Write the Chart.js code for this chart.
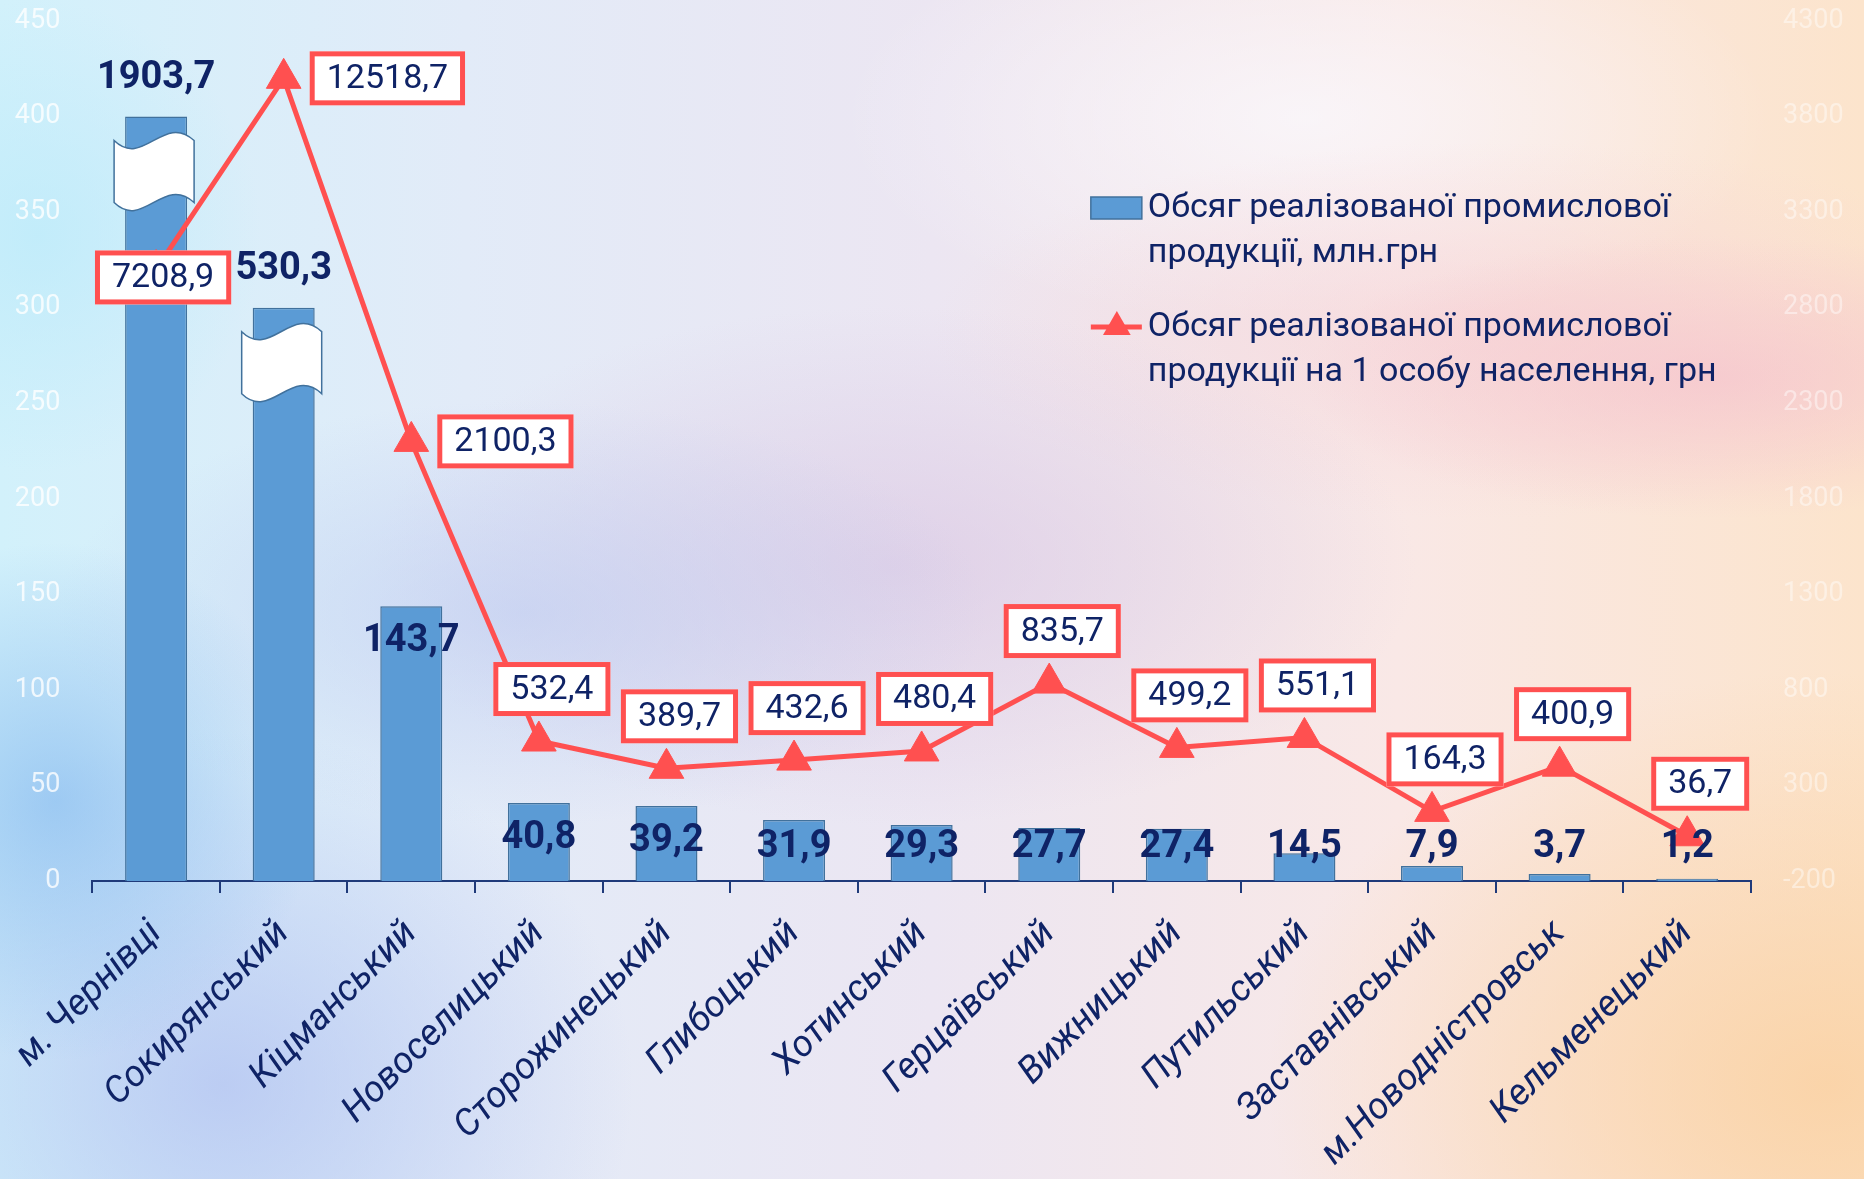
<!DOCTYPE html>
<html lang="uk">
<head>
<meta charset="utf-8">
<script src="https://cdn.jsdelivr.net/npm/chart.js@4.4.1/dist/chart.umd.min.js"></script>
<style>
  html, body { margin: 0; padding: 0; }
  body {
    width: 1864px; height: 1179px; overflow: hidden;
    background:
      radial-gradient(ellipse 14% 22% at 3% 68%, rgba(140,190,240,0.75), rgba(140,190,240,0) 100%),
      radial-gradient(ellipse 22% 30% at 12% 92%, rgba(175,190,240,0.7), rgba(175,190,240,0) 100%),
      radial-gradient(ellipse 25% 18% at 28% 52%, rgba(185,200,240,0.55), rgba(185,200,240,0) 100%),
      radial-gradient(ellipse 28% 22% at 48% 48%, rgba(215,195,225,0.6), rgba(215,195,225,0) 100%),
      radial-gradient(ellipse 22% 12% at 92% 32%, rgba(245,195,205,0.7), rgba(245,195,205,0) 100%),
      radial-gradient(ellipse 30% 16% at 80% 28%, rgba(245,205,212,0.5), rgba(245,205,212,0) 100%),
      radial-gradient(ellipse 30% 35% at 98% 92%, rgba(250,208,160,0.8), rgba(250,208,160,0) 100%),
      radial-gradient(ellipse 25% 18% at 70% 10%, rgba(250,250,255,0.7), rgba(250,250,255,0) 100%),
      radial-gradient(ellipse 12% 20% at 2% 20%, rgba(190,235,250,0.8), rgba(190,235,250,0) 100%),
      linear-gradient(90deg, #d2f1fb 0%, #e2ebf8 25%, #ece6f2 50%, #f9e8e6 75%, #fce4cc 100%);
  }
  #wrap { position: absolute; left: 0; top: 0; width: 1864px; height: 1179px; }
</style>
</head>
<body>
<div id="wrap"><canvas id="c" width="1864" height="1179"></canvas></div>
<script>
// ---------- DATA ----------
const categories = ['м. Чернівці', 'Сокирянський', 'Кіцманський', 'Новоселицький', 'Сторожинецький',
  'Глибоцький', 'Хотинський', 'Герцаївський', 'Вижницький', 'Путильський', 'Заставнівський',
  'м.Новодністровськ', 'Кельменецький'];

// Обсяг реалізованої промислової продукції, млн.грн (values written in the labels)
const volumeValues = [1903.7, 530.3, 143.7, 40.8, 39.2, 31.9, 29.3, 27.7, 27.4, 14.5, 7.9, 3.7, 1.2];
// heights at which the bars are drawn (first two bars are shown broken)
const volumeBarHeights = [400, 300, 143.7, 40.8, 39.2, 31.9, 29.3, 27.7, 27.4, 14.5, 7.9, 3.7, 1.2];

// Обсяг реалізованої промислової продукції на 1 особу населення, грн (values written in the labels)
const perCapitaValues = [7208.9, 12518.7, 2100.3, 532.4, 389.7, 432.6, 480.4, 835.7, 499.2, 551.1, 164.3, 400.9, 36.7];
// heights at which the points are drawn (first two points are off the axis scale)
const perCapitaPointHeights = [3000, 4000, 2100.3, 532.4, 389.7, 432.6, 480.4, 835.7, 499.2, 551.1, 164.3, 400.9, 36.7];

const leftTickLabels = [0, 50, 100, 150, 200, 250, 300, 350, 400, 450];
const rightTickLabels = [-200, 300, 800, 1300, 1800, 2300, 2800, 3300, 3800, 4300];

const legendLabels = [
  ['Обсяг реалізованої промислової', 'продукції, млн.грн'],
  ['Обсяг реалізованої промислової', 'продукції на 1 особу населення, грн']
];

// ---------- STYLE ----------
const FONT = 'Roboto, "Open Sans", "Noto Sans", sans-serif';
const NAVY = '#0f2366';
const BAR_FILL = '#5B9BD5';
const BAR_EDGE = '#41719C';
const RED = '#FF5050';
// label placement for the line labels: 'cover' | 'right' | 'above'
const lineLabelPlacement = ['cover', 'right', 'right', 'above', 'above', 'above', 'above', 'above', 'above', 'above', 'above', 'above', 'above'];

const fmt = v => v.toFixed(1).replace('.', ',');

function drawBreak(ctx, cx, top, w, h) {
  const L = cx - w / 2, R = cx + w / 2, c = 28;
  ctx.save();
  ctx.beginPath();
  ctx.moveTo(L, top);
  ctx.bezierCurveTo(L + w * 0.36, top + c, L + w * 0.62, top - c, R, top);
  ctx.lineTo(R, top + h);
  ctx.bezierCurveTo(L + w * 0.62, top + h - c, L + w * 0.36, top + h + c, L, top + h);
  ctx.closePath();
  ctx.fillStyle = '#ffffff';
  ctx.fill();
  ctx.lineWidth = 1.5;
  ctx.strokeStyle = BAR_EDGE;
  ctx.stroke();
  ctx.restore();
}

function drawBoxLabel(ctx, text, cx, cy) {
  ctx.save();
  ctx.font = '34px ' + FONT;
  const tw = ctx.measureText(text).width;
  const w = tw + 34, h = 54;
  ctx.fillStyle = '#ffffff';
  ctx.fillRect(cx - w / 2, cy - h / 2, w, h);
  ctx.lineWidth = 5;
  ctx.strokeStyle = RED;
  ctx.strokeRect(cx - w / 2 + 2.5, cy - h / 2 + 2.5, w - 5, h - 5);
  ctx.fillStyle = NAVY;
  ctx.textAlign = 'center';
  ctx.textBaseline = 'middle';
  ctx.fillText(text, cx, cy + 1);
  ctx.restore();
  return w;
}

const annotations = {
  id: 'annotations',
  afterDatasetsDraw(chart) {
    const ctx = chart.ctx;
    const lineMeta = chart.getDatasetMeta(0);
    const barMeta = chart.getDatasetMeta(1);
    const base = chart.scales.y.getPixelForValue(0);

    // broken-bar symbols
    barMeta.data.forEach((bar, i) => {
      if (volumeBarHeights[i] !== volumeValues[i]) {
        drawBreak(ctx, bar.x - 2, bar.y + 24, 80, 62);
      }
    });

    // line labels
    ctx.save();
    ctx.font = '34px ' + FONT;
    lineMeta.data.forEach((pt, i) => {
      const text = fmt(perCapitaValues[i]);
      const w = ctx.measureText(text).width + 34;
      const place = lineLabelPlacement[i];
      let cx, cy;
      if (place === 'cover') { cx = pt.x + 7; cy = pt.y + 8; }
      else if (place === 'right') { cx = pt.x + 26 + w / 2; cy = pt.y; }
      else { cx = pt.x + 13; cy = pt.y - 52; }
      drawBoxLabel(ctx, text, cx, cy);
    });
    ctx.restore();

    // bar labels
    ctx.save();
    ctx.font = 'bold 38px ' + FONT;
    ctx.fillStyle = NAVY;
    ctx.textAlign = 'center';
    ctx.textBaseline = 'middle';
    barMeta.data.forEach((bar, i) => {
      const text = fmt(volumeValues[i]);
      let cy;
      if (volumeBarHeights[i] !== volumeValues[i]) cy = bar.y - 38;
      else cy = Math.min(bar.y + 35, base - 34);
      ctx.fillText(text, bar.x, cy);
    });
    ctx.restore();
  },
  afterDraw(chart) {
    // legend
    const ctx = chart.ctx;
    const a = chart.chartArea;
    const lx = a.left + (a.right - a.left) * 0.602;
    const tx = lx + 57;
    const y1 = 208, y2 = 327, lh = 45;
    ctx.save();
    ctx.fillStyle = BAR_FILL;
    ctx.fillRect(lx, y1 - 11, 51, 22);
    ctx.strokeStyle = BAR_EDGE;
    ctx.lineWidth = 1.5;
    ctx.strokeRect(lx, y1 - 11, 51, 22);

    ctx.strokeStyle = RED;
    ctx.lineWidth = 5;
    ctx.beginPath();
    ctx.moveTo(lx, y2); ctx.lineTo(lx + 51, y2);
    ctx.stroke();
    const r = 16, tcx = lx + 26;
    ctx.fillStyle = RED;
    ctx.beginPath();
    ctx.moveTo(tcx, y2 - r);
    ctx.lineTo(tcx + r * 0.866, y2 + r / 2);
    ctx.lineTo(tcx - r * 0.866, y2 + r / 2);
    ctx.closePath();
    ctx.fill();

    ctx.font = '34px ' + FONT;
    ctx.fillStyle = NAVY;
    ctx.textAlign = 'left';
    ctx.textBaseline = 'middle';
    legendLabels[0].forEach((t, k) => ctx.fillText(t, tx, y1 + k * lh));
    legendLabels[1].forEach((t, k) => ctx.fillText(t, tx, y2 + k * lh));
    ctx.restore();
  }
};

const zeroVPad = s => { s.paddingTop = 0; s.paddingBottom = 0; };

new Chart(document.getElementById('c'), {
  data: {
    labels: categories,
    datasets: [
      {
        type: 'line',
        label: legendLabels[1].join(' '),
        data: perCapitaPointHeights,
        yAxisID: 'y1',
        order: 0,
        borderColor: RED,
        borderWidth: 5,
        backgroundColor: RED,
        pointStyle: 'triangle',
        pointRadius: 20,
        pointBackgroundColor: RED,
        pointBorderColor: RED,
        pointBorderWidth: 1,
        tension: 0,
        clip: false
      },
      {
        type: 'bar',
        label: legendLabels[0].join(' '),
        data: volumeBarHeights,
        yAxisID: 'y',
        order: 1,
        backgroundColor: BAR_FILL,
        borderColor: BAR_EDGE,
        borderWidth: 1.5,
        barPercentage: 0.486,
        categoryPercentage: 1
      }
    ]
  },
  options: {
    responsive: false,
    animation: false,
    devicePixelRatio: 1,
    layout: { padding: { top: 21, left: 0, right: 0, bottom: 0 } },
    plugins: { legend: { display: false }, tooltip: { enabled: false } },
    scales: {
      x: {
        offset: true,
        grid: { display: true, offset: true, drawOnChartArea: false, drawTicks: true, tickLength: 12, color: '#1F3A7A', lineWidth: 2 },
        border: { display: true, color: '#1F3A7A', width: 2 },
        ticks: {
          autoSkip: false, maxRotation: 45, minRotation: 45, padding: 19,
          color: NAVY, font: { family: FONT, size: 37, style: 'italic' }
        },
        afterFit: s => { s.height = 298; }
      },
      y: {
        position: 'left',
        min: leftTickLabels[0], max: leftTickLabels[leftTickLabels.length - 1],
        grid: { display: false, drawTicks: false },
        border: { display: false },
        ticks: {
          stepSize: leftTickLabels[1] - leftTickLabels[0], padding: 32,
          color: 'rgba(255,255,255,0.8)', font: { family: FONT, size: 27 },
          callback: v => String(v)
        },
        afterFit: s => { s.width = 92; zeroVPad(s); }
      },
      y1: {
        position: 'right',
        min: rightTickLabels[0], max: rightTickLabels[rightTickLabels.length - 1],
        grid: { display: false, drawTicks: false },
        border: { display: false },
        ticks: {
          stepSize: rightTickLabels[1] - rightTickLabels[0], padding: 32,
          color: 'rgba(255,255,255,0.45)', font: { family: FONT, size: 27 },
          callback: v => String(v)
        },
        afterFit: s => { s.width = 113; zeroVPad(s); }
      }
    }
  },
  plugins: [annotations]
});
</script>
</body>
</html>
